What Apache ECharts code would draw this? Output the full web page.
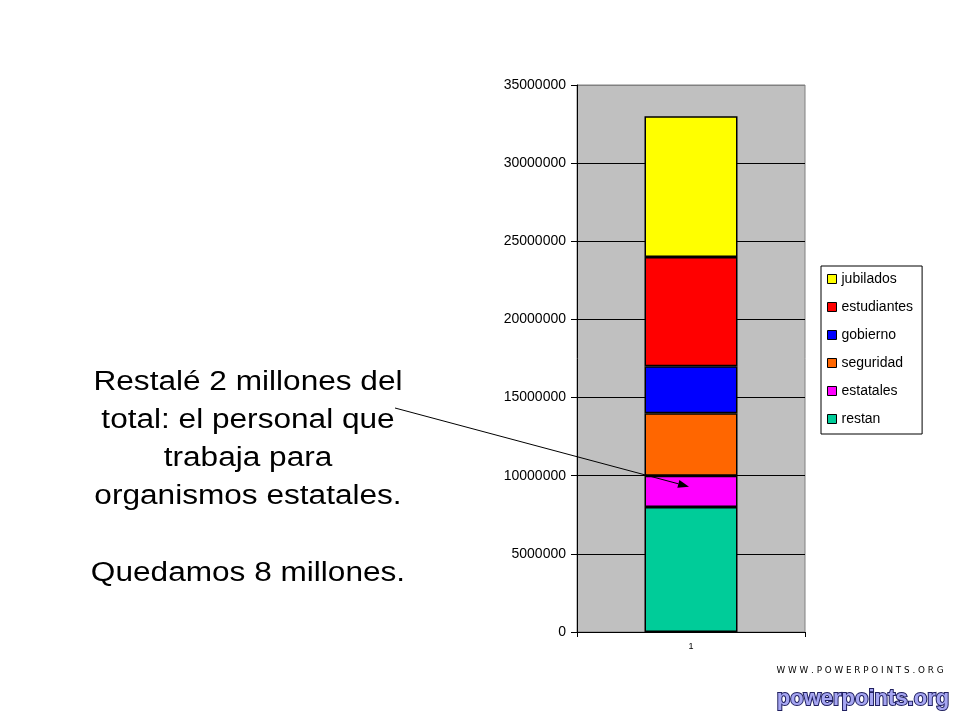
<!DOCTYPE html>
<html>
<head>
<meta charset="utf-8">
<script src="https://cdn.jsdelivr.net/npm/echarts@6/dist/echarts.min.js"></script>
<style>
html,body{margin:0;padding:0;background:#fff;}
#chart{width:960px;height:720px;}
</style>
</head>
<body>
<div id="chart"></div>
<script>
// Data
const categories = ['1'];
const seriesNames = ['restan', 'estatales', 'seguridad', 'gobierno', 'estudiantes', 'jubilados'];
const restan = [8000000];
const estatales = [2000000];
const seguridad = [4000000];
const gobierno = [3000000];
const estudiantes = [7000000];
const jubilados = [9000000];
const seriesValues = [restan, estatales, seguridad, gobierno, estudiantes, jubilados];
const seriesColors = ['#00CC99', '#FF00FF', '#FF6600', '#0000FF', '#FF0000', '#FFFF00'];
const legendOrder = ['jubilados', 'estudiantes', 'gobierno', 'seguridad', 'estatales', 'restan'];
const yTicks = [0, 5000000, 10000000, 15000000, 20000000, 25000000, 30000000, 35000000];
const annotationText = 'Restalé 2 millones del\ntotal: el personal que\ntrabaja para\norganismos estatales.\n\nQuedamos 8 millones.';

const FONT = '"Liberation Sans", Arial, sans-serif';
const chart = echarts.init(document.getElementById('chart'));

const splitColors = yTicks.map((t, i) => i === yTicks.length - 1 ? '#808080' : '#000000');

const option = {
  animation: false,
  backgroundColor: '#ffffff',
  grid: {
    left: 577, right: 155, top: 85, bottom: 88,
    show: true, backgroundColor: '#C0C0C0', borderColor: '#808080', borderWidth: 1
  },
  legend: {
    orient: 'vertical',
    left: 821, top: 266,
    data: legendOrder,
    icon: 'rect',
    itemWidth: 9, itemHeight: 9,
    itemGap: 12,
    itemTextGap: 4,
    padding: [5, 9, 7, 6],
    borderColor: '#000', borderWidth: 1,
    backgroundColor: '#fff',
    borderRadius: 0,
    textStyle: { fontFamily: FONT, fontSize: 14, color: '#000', lineHeight: 16 },
    itemStyle: { borderColor: '#000', borderWidth: 1 }
  },
  xAxis: {
    type: 'category',
    data: categories,
    axisLine: { show: true, lineStyle: { color: '#000', width: 1 } },
    axisTick: { show: true, length: 5, lineStyle: { color: '#000' } },
    axisLabel: { fontFamily: FONT, fontSize: 9, color: '#000', margin: 10 },
    splitLine: { show: false }
  },
  yAxis: {
    type: 'value',
    min: 0, max: 35000000, interval: 5000000,
    axisLine: { show: true, lineStyle: { color: '#000', width: 1 } },
    axisTick: { show: true, length: 6, lineStyle: { color: '#000' } },
    axisLabel: { fontFamily: FONT, fontSize: 14, color: '#000', margin: 11, formatter: v => String(v) },
    splitLine: { show: true, lineStyle: { color: splitColors, width: 1 } }
  },
  series: seriesNames.map((name, i) => ({
    name: name,
    type: 'bar',
    stack: 'total',
    barWidth: 93,
    data: seriesValues[i],
    itemStyle: { color: seriesColors[i], borderColor: '#000', borderWidth: 1.5 },
    emphasis: { disabled: true }
  }))
};
chart.setOption(option);

// Annotation arrow pointing into the "estatales" segment
const target = chart.convertToPixel({ gridIndex: 0 }, [categories[0], restan[0] + estatales[0] * 0.65]);
const ex = target[0] - 2, ey = target[1];
const sx = 395, sy = 408;
const ang = Math.atan2(ey - sy, ex - sx);
const hl = 11, hw = 4;
const bx = ex - hl * Math.cos(ang), by = ey - hl * Math.sin(ang);
const px = -Math.sin(ang) * hw, py = Math.cos(ang) * hw;

chart.setOption({
  graphic: [
    {
      type: 'text', z: 10,
      x: 248, y: 363, scaleX: 1.17, scaleY: 1,
      style: {
        x: 0, y: 0, text: annotationText, align: 'center', verticalAlign: 'top',
        font: '27px ' + FONT, fill: '#000', lineHeight: 38.2
      }
    },
    {
      type: 'line', z: 10,
      shape: { x1: sx, y1: sy, x2: bx, y2: by },
      style: { stroke: '#000', lineWidth: 1 }
    },
    {
      type: 'polygon', z: 10,
      shape: { points: [[ex, ey], [bx + px, by + py], [bx - px, by - py]] },
      style: { fill: '#000' }
    },
    {
      type: 'text', z: 10,
      x: 860, y: 671, scaleX: 1.1,
      style: {
        x: 0, y: 0, text: 'W W W . P O W E R P O I N T S . O R G', align: 'center', verticalAlign: 'middle',
        font: '8px "DejaVu Sans", sans-serif', fill: '#000'
      }
    },
    {
      type: 'text', z: 10,
      style: {
        x: 863, y: 699, text: 'powerpoints.org', align: 'center', verticalAlign: 'middle',
        font: 'bold 22px "Liberation Sans", Arial, sans-serif', fill: '#A6A6F2', stroke: '#202060', lineWidth: 2
      }
    }
  ]
});
</script>
</body>
</html>
